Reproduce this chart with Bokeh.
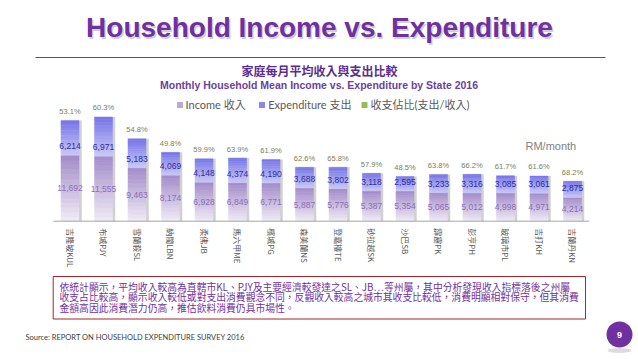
import math
from bokeh.plotting import figure
from bokeh.models import Range1d, ColumnDataSource
from bokeh.core.properties import value
from bokeh.embed import file_html
from bokeh.resources import INLINE

# ---------------- data ----------------
title = "Household Income vs. Expenditure"
subtitle_cn = "家庭每月平均收入與支出比較"
subtitle_en = "Monthly Household  Mean Income vs. Expenditure by State 2016"
states = ["吉隆坡KUL", "布城PJY", "雪蘭莪SL", "納閩LBN", "柔佛JB", "馬六甲ME", "檳城PG", "森美蘭NS",
          "登嘉樓TE", "砂拉越SK", "沙巴SB", "霹靂PK", "彭亨PH", "玻璃市PL", "吉打KH", "吉蘭丹KN"]
income = [11692, 11555, 9463, 8174, 6928, 6849, 6771, 5887, 5776, 5387, 5354, 5065, 5012, 4998, 4971, 4214]
expenditure = [6214, 6971, 5183, 4069, 4148, 4374, 4190, 3688, 3802, 3118, 2595, 3233, 3316, 3085, 3061, 2875]
ratio = [53.1, 60.3, 54.8, 49.8, 59.9, 63.9, 61.9, 62.6, 65.8, 57.9, 48.5, 63.8, 66.2, 61.7, 61.6, 68.2]
series_names = ["Income 收入", "Expenditure 支出", "收支佔比(支出/收入)"]
unit_label = "RM/month"
note_lines = [
    "依統計顯示，平均收入較高為直轄市KL、PJY及主要經濟較發達之SL、JB…等州屬，其中分析發現收入指標落後之州屬",
    "收支占比較高，顯示收入較低或對支出消費觀念不同，反觀收入較高之城市其收支比較低，消費明顯相對保守，但其消費",
    "金額高因此消費潛力仍高，推估飲料消費仍具市場性。",
]
source_note = "Source: REPORT ON HOUSEHOLD EXPENDITURE SURVEY 2016"
page_number = "9"

# ---------------- geometry / style ----------------
W, H, OFF = 638, 359, 0
X0, DX = 69.5, 33.5            # page x of first bar centre, spacing
BASE_Y, PX_PER_UNIT = 220.7, 0.00563
BAR_W = 0.54
PURPLE = "#7030A0"
INC_TOP, INC_BOT = "#A38BCA", "#F1EDF7"
EXP_TOP, EXP_BOT = "#7674E8", "#CACAF7"
CJK = "Noto Sans CJK TC"


def idx_of(px):
    return (px - X0) / DX


def val_of(py):
    return (BASE_Y - py) / PX_PER_UNIT


def mix(c1, c2, t):
    a = [int(c1[i:i + 2], 16) for i in (1, 3, 5)]
    b = [int(c2[i:i + 2], 16) for i in (1, 3, 5)]
    return "#%02x%02x%02x" % tuple(round(a[j] + (b[j] - a[j]) * t) for j in range(3))


p = figure(width=W, height=H, output_backend="svg", toolbar_location=None,
           x_range=Range1d(idx_of(OFF), idx_of(OFF + W)),
           y_range=Range1d(val_of(OFF + H), val_of(OFF)),
           x_axis_location=None, y_axis_location=None,
           min_border=0, outline_line_color=None)
p.grid.visible = False
p.extra_x_ranges = {"ref": Range1d(OFF, OFF + W)}
p.extra_y_ranges = {"ref": Range1d(OFF + H, OFF)}
R = dict(x_range_name="ref", y_range_name="ref")

n = len(states)
idx = list(range(n))
totals = [a + b for a, b in zip(income, expenditure)]

# ---- bar shadows ----
p.vbar(x=[i + 0.08 for i in idx], bottom=0, top=totals, width=BAR_W,
       fill_color="#9A9A9A", fill_alpha=0.45, line_color=None)

# ---- gradient stacked bars ----
N = 14
xs, bots, tops, cols = [], [], [], []
for i, (inc, exp) in enumerate(zip(income, expenditure)):
    for k in range(N):
        xs.append(i); bots.append(inc * k / N); tops.append(inc * (k + 1) / N)
        cols.append(mix(INC_BOT, INC_TOP, (k + 0.5) / N))
    for k in range(N):
        xs.append(i); bots.append(inc + exp * k / N); tops.append(inc + exp * (k + 1) / N)
        cols.append(mix(EXP_BOT, EXP_TOP, (k + 0.5) / N))
src = ColumnDataSource(dict(x=xs, bottom=bots, top=tops, color=cols))
p.vbar(x="x", bottom="bottom", top="top", width=BAR_W, fill_color="color",
       line_color="color", line_width=0.4, source=src)

# ---- axis baseline ----
p.segment(x0=[-0.5], x1=[n - 0.5], y0=[0], y1=[0], line_color="#A6A6A6", line_width=1)

# ---- category labels ----
p.text(x=idx, y=[0] * n, text=states, angle=-math.pi / 2, y_offset=7,
       text_align="left", text_baseline="middle", text_font=value(CJK),
       text_font_size="8px", text_color="#595959")

# ---- data labels ----
p.text(x=idx, y=totals, text=["%.1f%%" % r for r in ratio], y_offset=-9,
       text_align="center", text_baseline="middle", text_font=value("Liberation Sans"),
       text_font_size="7.5px", text_color="#76805A")
p.text(x=idx, y=income, text=["{:,}".format(v) for v in expenditure], y_offset=-9,
       text_align="center", text_baseline="middle", text_font=value("Liberation Sans"),
       text_font_size="8.5px", text_color="#2B2BA8")
p.text(x=idx, y=[v / 2 for v in income], text=["{:,}".format(v) for v in income],
       text_align="center", text_baseline="middle", text_font=value("Liberation Sans"),
       text_font_size="8.5px", text_color="#8C6DBA")

# ---- title block ----
p.text(x=[320.5], y=[28.5], text=[title], text_align="center", text_baseline="middle",
       text_font=value("Liberation Sans"), text_font_style="bold", text_font_size="28px",
       text_color="#777777", text_alpha=0.35, **R)
p.text(x=[319], y=[27], text=[title], text_align="center", text_baseline="middle",
       text_font=value("Liberation Sans"), text_font_style="bold", text_font_size="28px",
       text_color=PURPLE, **R)
p.segment(x0=[35], x1=[605], y0=[57], y1=[57], line_color="#5E4A72", line_width=1, **R)
p.text(x=[319], y=[70], text=[subtitle_cn], text_align="center", text_baseline="middle",
       text_font=value(CJK), text_font_style="bold", text_font_size="12px",
       text_color="#5C2D91", **R)
p.text(x=[320], y=[84], text=[subtitle_en], text_align="center", text_baseline="middle",
       text_font=value("Liberation Sans"), text_font_style="bold", text_font_size="10.5px",
       text_color="#6B3FA0", **R)

# ---- legend ----
leg_sq_x = [179.5, 261.5, 364]
leg_tx_x = [185, 267.7, 370]
leg_cols = ["#BCA8D8", "#8A88EC", "#9BBB59"]
p.scatter(x=leg_sq_x, y=[104.5] * 3, marker="square", size=6, fill_color=leg_cols,
          line_color=None, **R)
p.text(x=leg_tx_x, y=[104] * 3, text=series_names, text_align="left", text_baseline="middle",
       text_font=value("Lato, 'Noto Sans CJK TC'"), text_font_size="11px",
       text_color="#595959", **R)
p.text(x=[525], y=[145], text=[unit_label], text_align="left", text_baseline="middle",
       text_font=value("Liberation Sans"), text_font_size="11px", text_color="#808080", **R)

# ---- note box ----
p.quad(left=[52.7], right=[585], top=[276], bottom=[318.5], fill_color="white",
       line_color="#A3262C", line_width=1, **R)
p.text(x=[59] * 3, y=[286.5, 296.8, 307.1], text=note_lines, text_align="left",
       text_baseline="middle", text_font=value(CJK), text_font_size="9.8px",
       text_color=PURPLE, **R)

# ---- footer ----
p.text(x=[25], y=[337], text=[source_note], text_align="left", text_baseline="middle",
       text_font=value("Lato"), text_font_size="7.5px",
       text_color="#404040", **R)
p.ellipse(x=[619], y=[350], width=24, height=5, fill_color="#9A9A9A", fill_alpha=0.35,
          line_color=None, **R)
p.scatter(x=[619], y=[334], size=26, marker="circle", fill_color=PURPLE, line_color=None, **R)
p.text(x=[619], y=[334], text=[page_number], text_align="center", text_baseline="middle",
       text_font=value("Liberation Sans"), text_font_style="bold", text_font_size="9px",
       text_color="white", **R)

open("out.html", "w").write(file_html(p, INLINE))
